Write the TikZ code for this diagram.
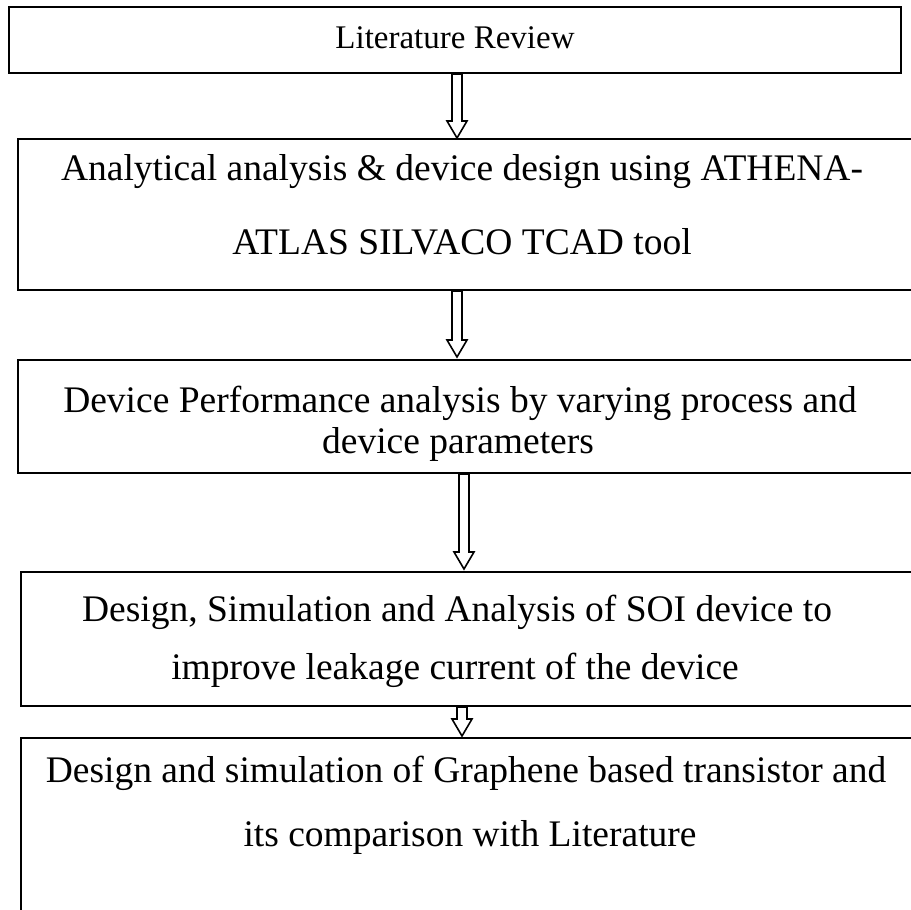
\documentclass[tikz,border=0pt]{standalone}
\usepackage{fontspec}
\setmainfont{Liberation Serif}
\usetikzlibrary{calc}
\tikzset{
  box/.style={draw=black, line width=2pt, inner sep=0pt, anchor=north west},
  txt/.style={inner sep=0pt, font=\fontsize{37.5}{44}\selectfont},
  txtsmall/.style={inner sep=0pt, font=\fontsize{33}{40}\selectfont},
  harrowline/.style={draw=black, line width=1.6pt, line join=miter},
}
% hollow arrow: #1 top coordinate, #2 tip coordinate (y axis points down)
\newcommand\hollowarrow[2]{%
  \draw[harrowline] ($(#1)+(-5,0)$) -- ($(#2)+(-5,-17)$) -- ($(#2)+(-10,-17)$) -- (#2)
    -- ($(#2)+(10,-17)$) -- ($(#2)+(5,-17)$) -- ($(#1)+(5,0)$) -- cycle;}
\begin{document}
\begin{tikzpicture}[x=1pt, y=-1pt]
\useasboundingbox (0,0) rectangle (911,910);
% boxes
\node[box, minimum width=892pt, minimum height=66pt] (b1) at (8,6) {};
\node[box, minimum width=898pt, minimum height=151pt] (b2) at (17,138) {};
\node[box, minimum width=898pt, minimum height=113pt] (b3) at (17,359) {};
\node[box, minimum width=895pt, minimum height=134pt] (b4) at (20,571) {};
\node[box, minimum width=895pt, minimum height=180pt] (b5) at (20,737) {};
% texts
\node[txtsmall] (t1) at (455,38) {Literature Review};
\node[txt] (t2a) at (462,172) {Analytical analysis \& device design using ATHENA-};
\node[txt] (t2b) at (462,242) {ATLAS SILVACO TCAD tool};
\node[txt] (t3a) at (460,403) {Device Performance analysis by varying process and};
\node[txt] (t3b) at (458,444) {device parameters};
\node[txt] (t4a) at (457,612) {Design, Simulation and Analysis of SOI device to};
\node[txt] (t4b) at (455,670) {improve leakage current of the device};
\node[txt] (t5a) at (466,773) {Design and simulation of Graphene based transistor and};
\node[txt] (t5b) at (470,837) {its comparison with Literature};
% arrow x positions
\path (457,0) coordinate (xa) (464,0) coordinate (xc) (462,0) coordinate (xd);
\coordinate (a1t) at (b1.south -| xa);
\coordinate (a1b) at (b2.north -| xa);
\coordinate (a2t) at (b2.south -| xa);
\coordinate (a2b) at ($(b3.north -| xa)+(0,-2)$);
\coordinate (a3t) at (b3.south -| xc);
\coordinate (a3b) at ($(b4.north -| xc)+(0,-2)$);
\coordinate (a4t) at (b4.south -| xd);
\coordinate (a4b) at ($(b5.north -| xd)+(0,-1)$);
\hollowarrow{a1t}{a1b}
\hollowarrow{a2t}{a2b}
\hollowarrow{a3t}{a3b}
\hollowarrow{a4t}{a4b}
\end{tikzpicture}
\end{document}
